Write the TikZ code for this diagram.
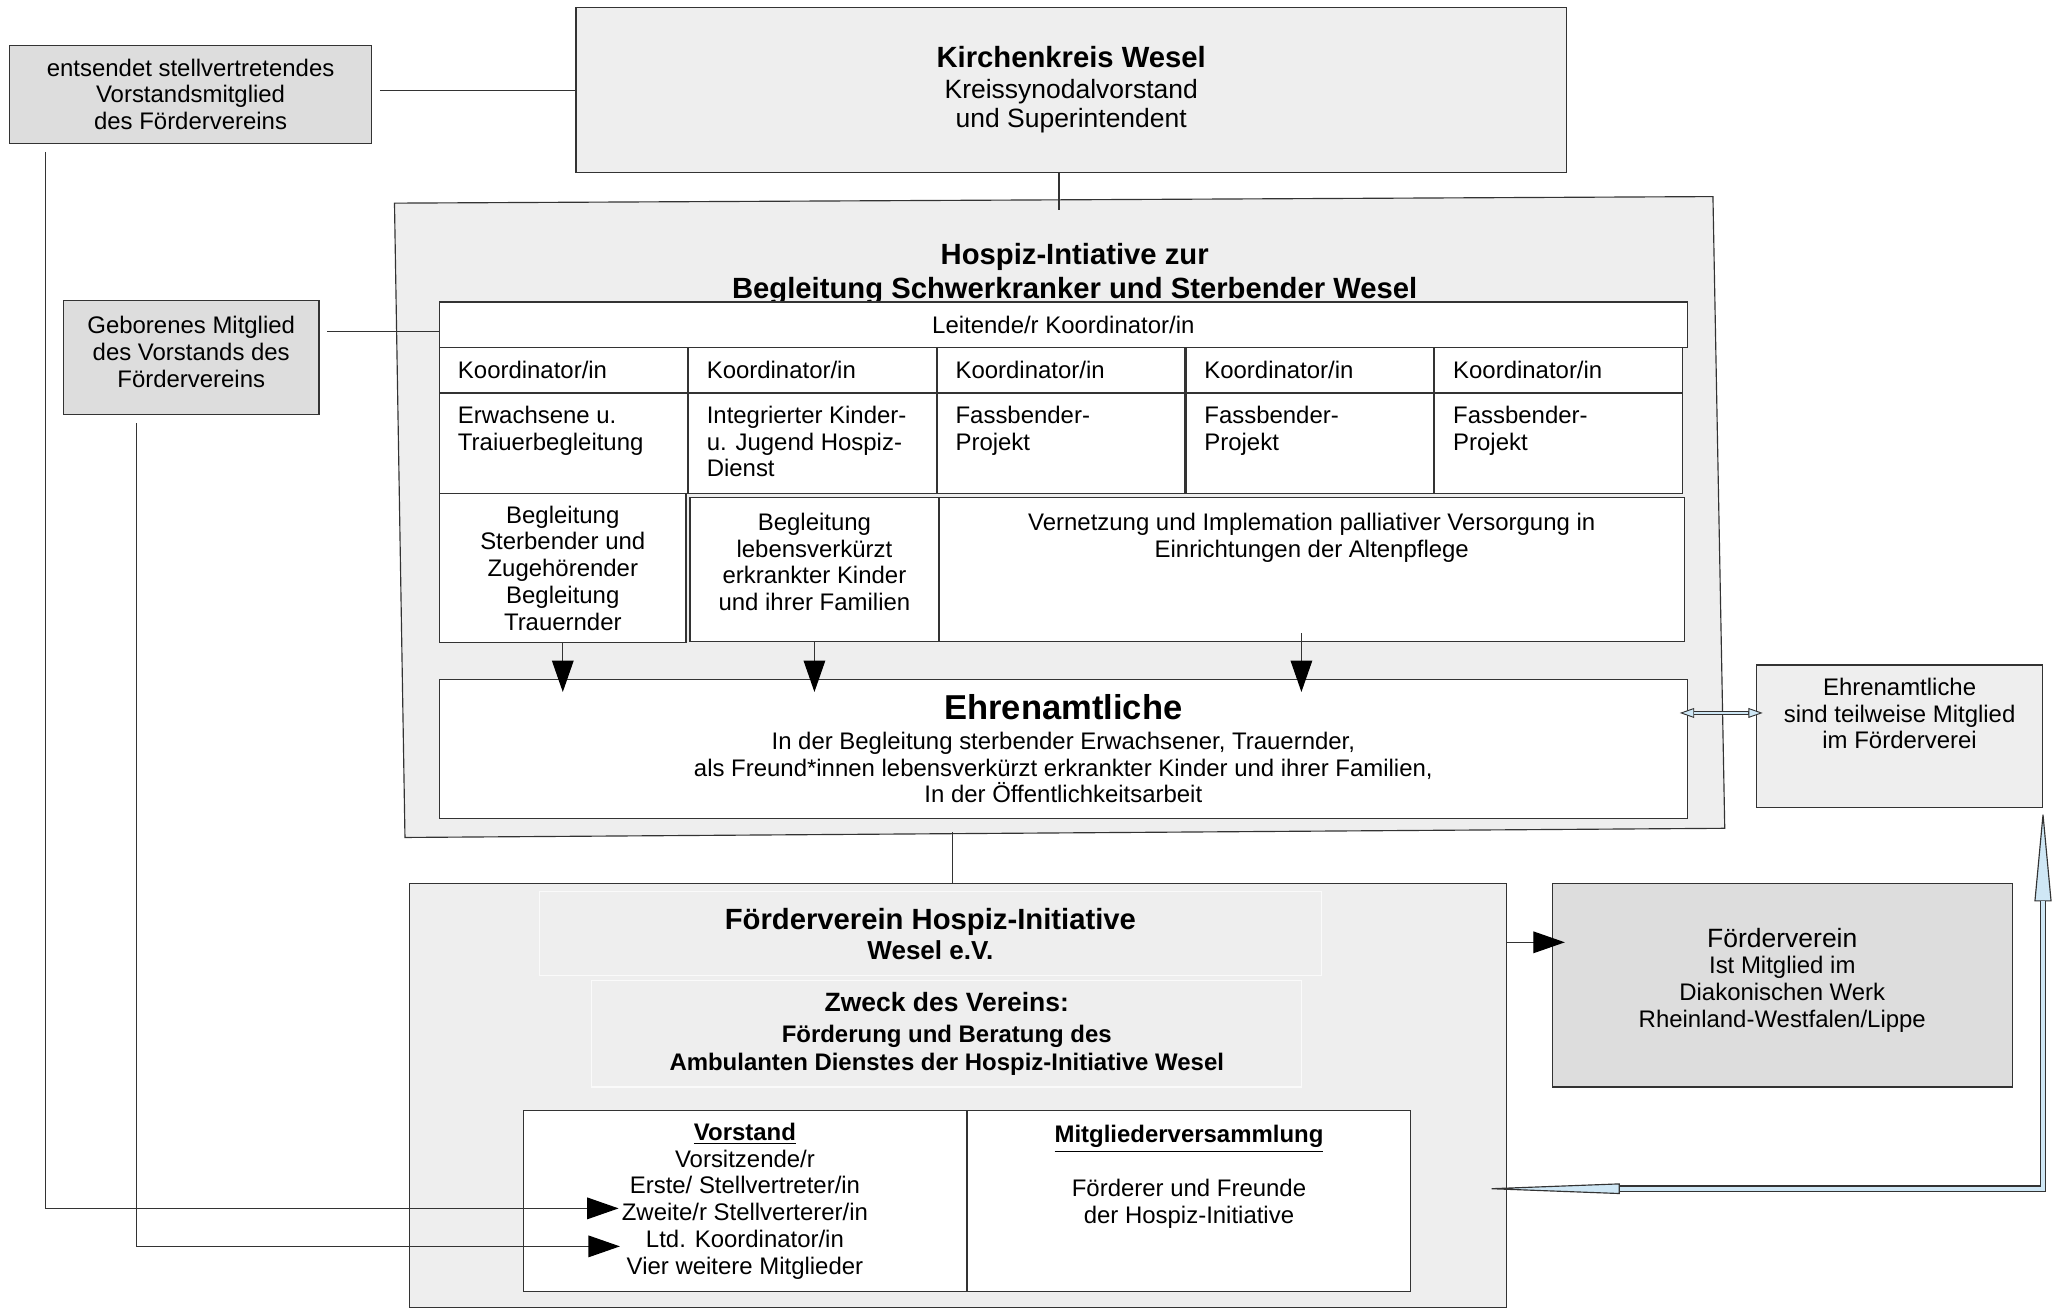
\documentclass[tikz,border=0pt]{standalone}
\usepackage{fontspec}
\setmainfont{Liberation Sans}
\usetikzlibrary{positioning,arrows.meta}

\definecolor{panelgray}{HTML}{EEEEEE}
\definecolor{boxgray}{HTML}{DDDDDD}
\definecolor{edgegray}{HTML}{333333}
\definecolor{arrowblue}{HTML}{CFE7F5}

\begin{document}
\begin{tikzpicture}[x=0.02cm, y=-0.02cm, line width=0.5pt]
\tikzstyle{every node}=[font=\fontsize{10.4}{11.6}\selectfont]
\tikzstyle{box}=[rectangle, draw=edgegray, anchor=north west, inner sep=0pt, align=center]
\tikzstyle{panel}=[box, fill=panelgray]
\tikzstyle{dark}=[box, fill=boxgray]
\tikzstyle{cell}=[box, fill=white]
\tikzstyle{soft}=[box, draw=white!70!panelgray, fill=panelgray]
\tikzstyle{kcell}=[cell, align=left, text width=3.22cm, inner xsep=0.28cm, minimum width=3.78cm, minimum height=0.68cm]
\tikzstyle{dcell}=[cell, minimum width=3.78cm, minimum height=1.52cm]
\tikzstyle{topleft}=[anchor=north west, align=left, inner xsep=0.28cm, inner ysep=0.19cm]
\tikzstyle{topmid}=[anchor=north, align=center, inner ysep=0.24cm]
\tikzstyle{title}=[font=\fontsize{12.7}{14.8}\selectfont\bfseries]
\tikzstyle{connect}=[draw=edgegray]
\tikzstyle{bigarrow}=[-{Triangle[length=0.48cm, width=0.33cm, color=black]}]
\tikzstyle{bluelink}=[draw=edgegray, line width=0.065cm,
  {Triangle[length=0.22cm, width=0.15cm, fill=arrowblue, line width=0.4pt]}-{Triangle[length=0.22cm, width=0.15cm, fill=arrowblue, line width=0.4pt]},
  postaction={draw=arrowblue, line width=0.035cm, -, shorten <=0.1cm, shorten >=0.12cm}]
\tikzstyle{bluearrow}=[draw=edgegray, line width=0.1cm,
  {Triangle[length=2.2cm, width=0.16cm, fill=arrowblue, line width=0.5pt]}-{Triangle[length=1.42cm, width=0.26cm, fill=arrowblue, line width=0.5pt]},
  postaction={draw=arrowblue, line width=0.055cm, -, shorten <=2.2cm, shorten >=1.42cm}]
\useasboundingbox (0,0) rectangle (1568,1000);
  % Kirchenkreis
  \node[panel, minimum width=15.12cm, minimum height=2.52cm, font=\fontsize{11.5}{12.6}\selectfont] (kk) at (439,5)
    {{\fontsize{12.7}{14}\selectfont\bfseries Kirchenkreis Wesel}\\[1.2pt] Kreissynodalvorstand\\ und Superintendent};
  \node[dark, minimum width=5.52cm, minimum height=1.5cm] (ents) at (7,34)
    {entsendet stellvertretendes\\ Vorstandsmitglied\\ des Fördervereins};
  \node[dark, minimum width=3.9cm, minimum height=1.74cm, label={[topmid]north:{Geborenes Mitglied\\ des Vorstands des\\ Fördervereins}}] (gm) at (48,229) {};
  % Hospiz-Initiative
  \draw[connect, fill=panelgray] (301,155) -- (1307,150) -- (1316,632) -- (309,639) -- cycle;
  \coordinate (htop) at (808,160);
  \coordinate (hbot) at (727,635);
  \node[title, align=center] (hosp) at (820,209) {Hospiz-Intiative zur\\ Begleitung Schwerkranker und Sterbender Wesel};
  \node[cell, minimum width=19.04cm, minimum height=0.7cm] (leit) at (335,230) {Leitende/r Koordinator/in};
  \node[kcell] (k1) at (335,265) {Koordinator/in};
  \node[kcell] (k2) [right=0cm of k1] {Koordinator/in};
  \node[kcell] (k3) [right=0cm of k2] {Koordinator/in};
  \node[kcell] (k4) [right=0cm of k3] {Koordinator/in};
  \node[kcell] (k5) [right=0cm of k4] {Koordinator/in};
  \node[dcell, label={[topleft]north west:{Erwachsene u.\\ Traiuerbegleitung}}] (d1) [below=0cm of k1] {};
  \node[dcell, label={[topleft]north west:{Integrierter Kinder-\\ u. Jugend Hospiz-\\ Dienst}}] (d2) [below=0cm of k2] {};
  \node[dcell, label={[topleft]north west:{Fassbender-\\ Projekt}}] (d3) [below=0cm of k3] {};
  \node[dcell, label={[topleft]north west:{Fassbender-\\ Projekt}}] (d4) [below=0cm of k4] {};
  \node[dcell, label={[topleft]north west:{Fassbender-\\ Projekt}}] (d5) [below=0cm of k5] {};
  \node[cell, minimum width=3.76cm, minimum height=2.28cm] (ba) at (335,376)
    {Begleitung\\ Sterbender und\\ Zugehörender\\ Begleitung\\ Trauernder};
  \node[cell, minimum width=3.8cm, minimum height=2.2cm, label={[topmid]north:{Begleitung\\ lebensverkürzt\\ erkrankter Kinder\\ und ihrer Familien}}] (bb) at (526,379) {};
  \node[cell, minimum width=11.38cm, minimum height=2.2cm, label={[topmid]north:{Vernetzung und Implemation palliativer Versorgung in\\ Einrichtungen der Altenpflege}}] (bc) at (716,379) {};
  \node[cell, minimum width=19.04cm, minimum height=2.12cm] (ehr) at (335,518)
    {{\fontsize{15}{18}\selectfont\bfseries Ehrenamtliche}\\[1.2pt] In der Begleitung sterbender Erwachsener, Trauernder,\\ als Freund*innen lebensverkürzt erkrankter Kinder und ihrer Familien,\\ In der Öffentlichkeitsarbeit};
  \node[panel, minimum width=4.36cm, minimum height=2.18cm, label={[topmid, inner ysep=0.2cm]north:{Ehrenamtliche\\ sind teilweise Mitglied\\ im Förderverei}}] (ehrm) at (1340,507) {};
  % Foerderverein
  \node[panel, minimum width=16.74cm, minimum height=6.46cm] (fv) at (312,674) {};
  \node[soft, minimum width=11.94cm, minimum height=1.28cm, font=\fontsize{11.3}{13}\selectfont\bfseries] (fvname) at (411,680)
    {{\fontsize{12.7}{14}\selectfont Förderverein Hospiz-Initiative}\\ Wesel e.V.};
  \node[soft, minimum width=10.84cm, minimum height=1.62cm, font=\fontsize{10.4}{12.4}\selectfont\bfseries] (zweck) at (451,748)
    {{\fontsize{11.5}{13}\selectfont Zweck des Vereins:}\\[1pt] Förderung und Beratung des\\ Ambulanten Dienstes der Hospiz-Initiative Wesel};
  \node[cell, minimum width=6.76cm, minimum height=2.76cm] (vs) at (399,847)
    {\underline{\textbf{Vorstand}}\\ Vorsitzende/r\\ Erste/ Stellvertreter/in\\ Zweite/r Stellverterer/in\\ Ltd. Koordinator/in\\ Vier weitere Mitglieder};
  \node[cell, minimum width=6.76cm, minimum height=2.76cm] (mv) [right=0cm of vs]
    {\underline{\textbf{Mitgliederversammlung}}\\ \mbox{}\\ Förderer und Freunde\\ der Hospiz-Initiative\\ \mbox{}\\ \mbox{}};
  \node[dark, minimum width=7.02cm, minimum height=3.1cm, label={[topmid, inner ysep=0.67cm]north:{{\fontsize{11.5}{13}\selectfont Förderverein}\\ Ist Mitglied im\\ Diakonischen Werk\\ Rheinland-Westfalen/Lippe}}] (dw) at (1184,674) {};
  \coordinate (vstart) at (993,483);
  \coordinate (zw) at (472,922);
  \coordinate (ltd) at (473,951);
  \coordinate (mvt) at (1126,907);
  % Verbindungen
  \draw[connect, shorten <=0.12cm] (ents.east |- 0,69) -- (kk.west |- 0,69);
  \draw[connect, shorten <=0.12cm] (gm.east |- 0,253) -- (leit.west |- 0,253);
  \draw[connect] (kk.south -| htop) -- (htop);
  \draw[connect] (hbot) -- (hbot |- fv.north);
  \draw[connect, bigarrow, shorten >=-0.2cm] (ba.south) -- (ba.south |- ehr.north);
  \draw[connect, bigarrow, shorten >=-0.2cm] (bb.south) -- (bb.south |- ehr.north);
  \draw[connect, bigarrow, shorten >=-0.2cm] (vstart) -- (vstart |- ehr.north);
  \draw[connect, bigarrow, shorten >=-0.2cm] (fv.east |- 0,719) -- (dw.west |- 0,719);
  \draw[connect, bigarrow, shorten <=0.12cm] ([xshift=0.56cm]ents.south west) |- (zw);
  \draw[connect, bigarrow, shorten <=0.12cm] ([xshift=1.12cm]gm.south west) |- (ltd);
  \draw[bluelink, shorten <=-0.12cm, shorten >=-0.1cm] (ehr.east |- 0,544) -- (ehrm.west |- 0,544);
  \draw[bluearrow] (mvt) -| (ehrm.south east);
\end{tikzpicture}
\end{document}
